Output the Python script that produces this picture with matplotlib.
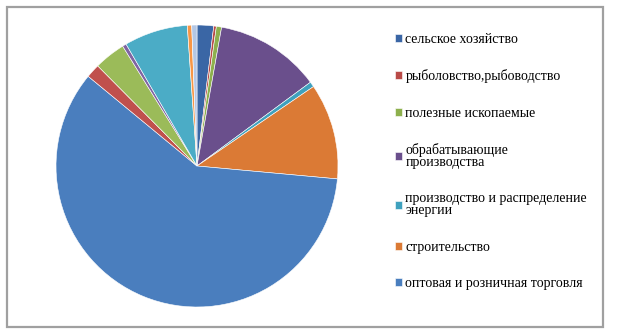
import matplotlib.pyplot as plt
from matplotlib.patches import Rectangle

# доли отраслей, %, по часовой стрелке от 12 часов
doli = [1.9, 0.3, 0.6, 12.1, 0.6, 11.0, 59.6, 1.6, 3.6, 0.45, 7.3, 0.5, 0.6]
otrasli = ['сельское хозяйство',
           'рыболовство,рыбоводство',
           'полезные ископаемые',
           'обрабатывающие\nпроизводства',
           'производство и распределение\nэнергии',
           'строительство',
           'оптовая и розничная торговля']
cveta = ['#3A66A5', '#B94A47', '#8DB04D', '#6A4F8C', '#3FA1BE', '#DB7A35',
         '#4A7EBE', '#C0504D', '#9BBB59', '#8064A2', '#4BACC6', '#F79646',
         '#B3C7E5']

plt.rcParams['font.family'] = ['Liberation Serif', 'DejaVu Serif']

fig = plt.figure(figsize=(6.18, 3.32), dpi=100)

# рамка диаграммы
fig.patches.append(Rectangle((7/618, 5/332), 596/618, 320/332,
                             transform=fig.transFigure, fill=False,
                             edgecolor='#A0A0A0', linewidth=1.6))

ax = fig.add_axes([56/618, 25/332, 282/618, 282/332])
klinya = ax.pie(doli, colors=cveta, startangle=90, counterclock=False,
                wedgeprops={'edgecolor': 'white', 'linewidth': 0.4})[0]
ax.set_xlim(-1, 1)
ax.set_ylim(-1, 1)

leg = fig.legend(klinya[:7], otrasli, loc='upper left',
                 bbox_to_anchor=(388/618, 1 - 26/332), frameon=False,
                 fontsize=10, handlelength=0.5, handleheight=0.5,
                 handletextpad=0.25, labelspacing=1.68, borderpad=0)
for t in leg.get_texts():
    t.set_linespacing(0.9)

fig.savefig('out.png', dpi=100)
